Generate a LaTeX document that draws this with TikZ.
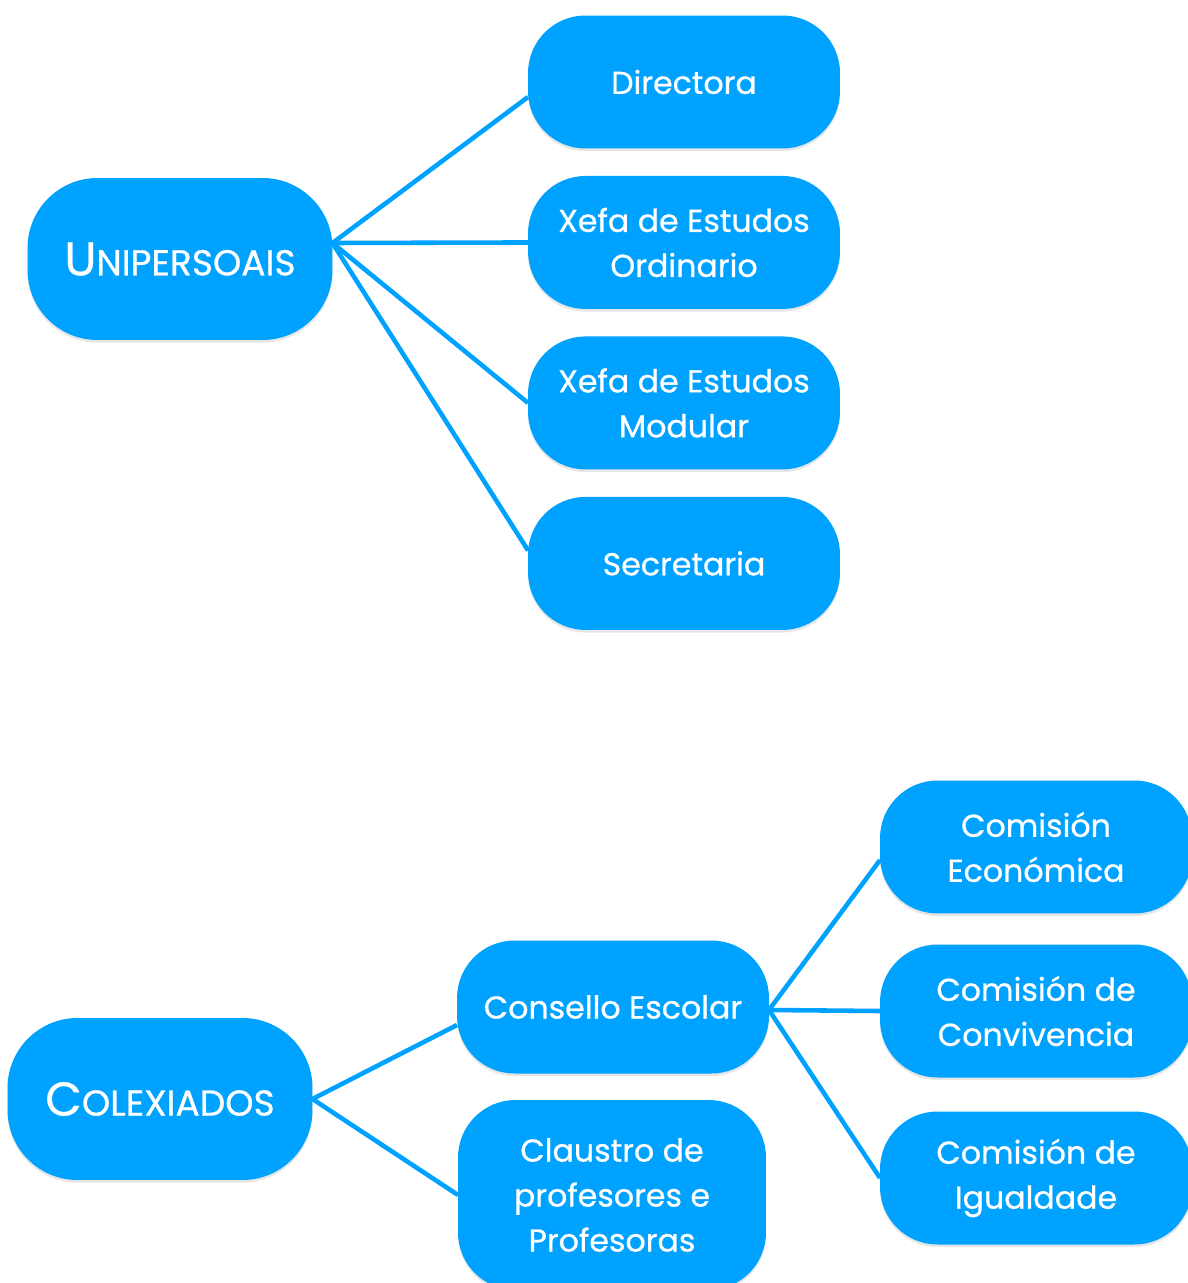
\documentclass[tikz,border=0pt]{standalone}
\usepackage{fontspec}
\setmainfont{Poppins}
\newfontfamily\bubblefont{Poppins}[FakeBold=0.7]
\usetikzlibrary{backgrounds,calc,positioning,shadows}
\definecolor{bubble}{RGB}{0,162,255}
\newdimen\hdim
\newdimen\wdim
\newdimen\odim
\hdim=2.66cm
\wdim=6.24cm
\odim=.55cm
\newcommand{\capword}[2]{{\fontsize{27}{30}\selectfont #1}{\fontsize{20.5}{30}\selectfont #2}}
\tikzstyle{element}=[
  align=center,
  fill=bubble,
  font={\bubblefont\fontsize{18}{25.6}\selectfont},
  inner sep=0pt,
  minimum height=\hdim,
  minimum width=\wdim,
  outer sep=0pt,
  rectangle,
  rounded corners=1.15cm,
  text=white,
  drop shadow={shadow xshift=0pt, shadow yshift=-1.5pt, opacity=.2},
]
\tikzstyle{root}=[
  element,
  minimum height=3.24cm,
  minimum width=6.1cm,
  rounded corners=1.4cm,
]
\tikzstyle{arrow}=[
  draw=bubble,
  line width=2.6pt,
]
\tikzset{
  node distance=\odim,
}

\begin{document}
\begin{tikzpicture}[x=.02cm, y=-.02cm]
  \useasboundingbox (0,0) rectangle (1187,1283);
  %% unipersoais
  \node (unipersoais) [root] at (180,259) {\capword{U}{NIPERSOAIS}};
  \node (directora) [element] at (684,82) {Directora};
  \node (ordinario) [element, below=of directora] {Xefa de Estudos\\Ordinario};
  \node (modular) [element, below=of ordinario] {Xefa de Estudos\\Modular};
  \node (secretaria) [element, below=of modular] {Secretaria};
  %% colexiados
  \node (colexiados) [root] at (160,1099) {\capword{C}{OLEXIADOS}};
  \node (consello) [element] at (613,1007) {Consello Escolar};
  \node (claustro) [element, minimum height=3.8cm, minimum width=6.16cm] at (612,1195) {Claustro de\\profesores e\\Profesoras};
  \node (economica) [element] at (1036,847) {Comisión\\Económica};
  \node (convivencia) [element] at (1036,1011) {Comisión de\\Convivencia};
  \node (igualdade) [element] at (1036,1178) {Comisión de\\Igualdade};
  %%
  \coordinate (U) at ($(unipersoais.east)+(0,-16)$);
  \coordinate (C) at ($(consello.east)+(0,3)$);
  \begin{scope}[on background layer]
    \draw [arrow] (U) -- ($(directora.west)+(0,15)$);
    \draw [arrow] (U) -- (ordinario.west);
    \draw [arrow] (U) -- (modular.west);
    \draw [arrow] (U) -- ($(secretaria.west)+(0,-13)$);
    \draw [arrow] (colexiados.east) -- ($(consello.west)+(0,18)$);
    \draw [arrow] (colexiados.east) -- (claustro.west);
    \draw [arrow] (C) -- ($(economica.west)+(0,13)$);
    \draw [arrow] (C) -- (convivencia.west);
    \draw [arrow] (C) -- (igualdade.west);
  \end{scope}
\end{tikzpicture}
\end{document}
